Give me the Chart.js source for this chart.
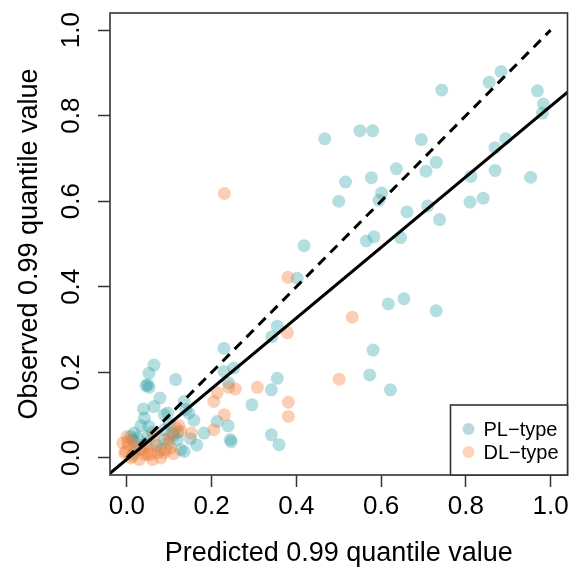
<!DOCTYPE html>
<html>
<head>
<meta charset="utf-8">
<script src="https://cdn.jsdelivr.net/npm/chart.js@4"></script>
<style>
  html, body { margin: 0; padding: 0; background: #fff; }
  #wrap { width: 574px; height: 576px; }
</style>
</head>
<body>
<div id="wrap"><canvas id="c"></canvas></div>
<script>
// axis ticks
const xTicks = [0, 0.2, 0.4, 0.6, 0.8, 1.0];
const yTicks = [0, 0.2, 0.4, 0.6, 0.8, 1.0];

// PL-type points (predicted, observed)
const plX = [0.883,0.855,0.743,0.969,0.983,0.981,0.550,0.580,0.467,0.695,0.894,0.869,0.730,0.636,0.706,0.577,0.869,0.953,0.812,0.516,
  0.601,0.595,0.500,0.810,0.841,0.710,0.661,0.738,0.583,0.565,0.646,0.418,0.402,0.617,0.654,0.730,0.355,0.342,0.581,0.229,
  0.573,0.622,0.355,0.341,0.295,0.252,0.229,0.240,0.115,0.064,0.052,0.045,0.052,0.049,0.078,0.135,0.039,0.088,0.146,0.041,
  0.158,0.213,0.239,0.182,0.244,0.246,0.341,0.359,0.135,0.064,0.096,0.052,0.025,0.013,0.049,0.088,0.099,0.111,0.080,0.127,
  0.139,0.009,0.017,0.060,0.070,0.030,0.015,0.100,0.120,0.045,0.088,0.107,0.119,0.017,0.033,0.150,0.165];
const plY = [0.903,0.878,0.860,0.858,0.827,0.806,0.765,0.765,0.746,0.744,0.746,0.725,0.691,0.676,0.670,0.655,0.672,0.656,0.658,0.645,
  0.619,0.602,0.600,0.598,0.607,0.589,0.575,0.557,0.517,0.507,0.515,0.496,0.420,0.360,0.372,0.344,0.308,0.283,0.252,0.256,
  0.194,0.159,0.186,0.159,0.124,0.210,0.202,0.175,0.183,0.217,0.198,0.169,0.165,0.171,0.140,0.132,0.114,0.101,0.105,0.093,
  0.088,0.085,0.075,0.058,0.043,0.038,0.054,0.031,0.015,0.120,0.105,0.074,0.047,0.043,0.050,0.043,0.035,0.054,0.019,0.019,
  0.113,0.050,0.039,0.060,0.030,0.020,0.010,0.080,0.060,0.035,0.066,0.058,0.043,0.058,0.075,0.045,0.030];

// DL-type points
const dlX = [0.230,0.380,0.532,0.379,0.501,0.308,0.256,0.240,0.213,0.205,0.381,0.381,0.230,0.205,0.152,0.123,0.103,0.002,-0.006,0.009,
  0.029,0.049,0.060,0.037,0.072,0.115,0.127,0.103,0.017,0.092,-0.010,0.002,-0.002,0.041,0.056,0.068,0.088,0.013,0.096,0.049,
  0.020,0.000,0.110,0.080,0.064];
const dlY = [0.618,0.422,0.329,0.293,0.184,0.165,0.161,0.165,0.152,0.132,0.130,0.097,0.101,0.066,0.058,0.075,0.023,0.031,0.012,0.000,
  -0.004,0.008,-0.004,0.019,0.012,0.070,0.062,0.050,0.035,0.019,0.035,0.039,0.015,0.008,0.008,0.027,0.012,0.004,0.043,0.027,
  0.020,0.050,0.010,0.000,0.054];

// fitted line and 1:1 line end points
const fitX = [-0.04, 1.04];
const fitY = [-0.036, 0.855];
const oneX = [0, 1];
const oneY = [0, 1];

const toPts = (xs, ys) => xs.map((x, i) => ({ x: x, y: ys[i] }));

const FONT = "'Liberation Sans', Arial, sans-serif";
const AXIS = '#333';

const framePlugin = {
  id: 'frame',
  afterDatasetsDraw(chart) {
    const { ctx, chartArea: a } = chart;
    ctx.save();
    // plot box
    ctx.strokeStyle = AXIS;
    ctx.lineWidth = 1.6;
    ctx.strokeRect(a.left, a.top, a.right - a.left, a.bottom - a.top);
    // legend box, bottom right
    const w = 117, h = 70;
    const lx = a.right - w, ly = a.bottom - h;
    ctx.fillStyle = '#fff';
    ctx.fillRect(lx, ly, w, h);
    ctx.strokeRect(lx, ly, w, h);
    const items = [
      { label: 'PL\u2212type', color: '#b8dadc' },
      { label: 'DL\u2212type', color: '#fdd3ba' }
    ];
    ctx.font = '20px ' + FONT;
    ctx.textBaseline = 'middle';
    ctx.textAlign = 'left';
    items.forEach((it, i) => {
      const cy = ly + 25 + i * 23;
      ctx.fillStyle = it.color;
      ctx.beginPath();
      ctx.arc(lx + 18, cy - 1, 6, 0, Math.PI * 2);
      ctx.fill();
      ctx.fillStyle = '#000';
      ctx.fillText(it.label, lx + 33, cy);
    });
    ctx.restore();
  }
};

new Chart(document.getElementById('c'), {
  type: 'scatter',
  data: {
    datasets: [
      {
        label: 'PL-type',
        data: toPts(plX, plY),
        backgroundColor: 'rgba(43,160,166,0.35)',
        borderWidth: 0,
        pointRadius: 6.5,
        pointHoverRadius: 6.5,
        order: 3
      },
      {
        label: 'DL-type',
        data: toPts(dlX, dlY),
        backgroundColor: 'rgba(242,130,60,0.38)',
        borderWidth: 0,
        pointRadius: 6.5,
        pointHoverRadius: 6.5,
        order: 2
      },
      {
        label: 'fit',
        data: toPts(fitX, fitY),
        showLine: true,
        borderColor: '#000',
        borderWidth: 3,
        pointRadius: 0,
        order: 1
      },
      {
        label: '1:1',
        data: toPts(oneX, oneY),
        showLine: true,
        borderColor: '#000',
        borderWidth: 3,
        borderDash: [10, 7],
        pointRadius: 0,
        order: 1
      }
    ]
  },
  options: {
    responsive: true,
    maintainAspectRatio: false,
    animation: false,
    events: [],
    layout: { padding: { left: 0, right: 4, top: 13, bottom: 0 } },
    plugins: { legend: { display: false }, tooltip: { enabled: false } },
    scales: {
      x: {
        type: 'linear',
        min: -0.04, max: 1.04,
        afterBuildTicks: s => { s.ticks = xTicks.map(v => ({ value: v })); },
        afterFit: s => { s.height = 101; s.paddingLeft = 0; s.paddingRight = 0; },
        grid: { drawOnChartArea: false, drawTicks: true, tickLength: 12, tickColor: AXIS, tickWidth: 1.5 },
        border: { display: false },
        ticks: {
          padding: 4,
          color: '#000',
          font: { family: FONT, size: 26 },
          maxRotation: 0,
          callback: v => v.toFixed(1)
        },
        title: {
          display: true,
          text: 'Predicted 0.99 quantile value',
          color: '#000',
          font: { family: FONT, size: 27 },
          padding: { top: 0, bottom: 6 }
        }
      },
      y: {
        type: 'linear',
        min: -0.04, max: 1.04,
        afterBuildTicks: s => { s.ticks = yTicks.map(v => ({ value: v })); },
        afterFit: s => { s.width = 110; s.paddingTop = 0; s.paddingBottom = 0; },
        grid: { drawOnChartArea: false, drawTicks: true, tickLength: 12, tickColor: AXIS, tickWidth: 1.5 },
        border: { display: false },
        ticks: {
          padding: 8,
          color: '#000',
          font: { family: FONT, size: 26 },
          minRotation: 90,
          maxRotation: 90,
          crossAlign: 'center',
          callback: v => v.toFixed(1)
        },
        title: {
          display: true,
          text: 'Observed 0.99 quantile value',
          color: '#000',
          font: { family: FONT, size: 27 },
          padding: { top: 13, bottom: 0 }
        }
      }
    }
  },
  plugins: [framePlugin]
});
</script>
</body>
</html>
